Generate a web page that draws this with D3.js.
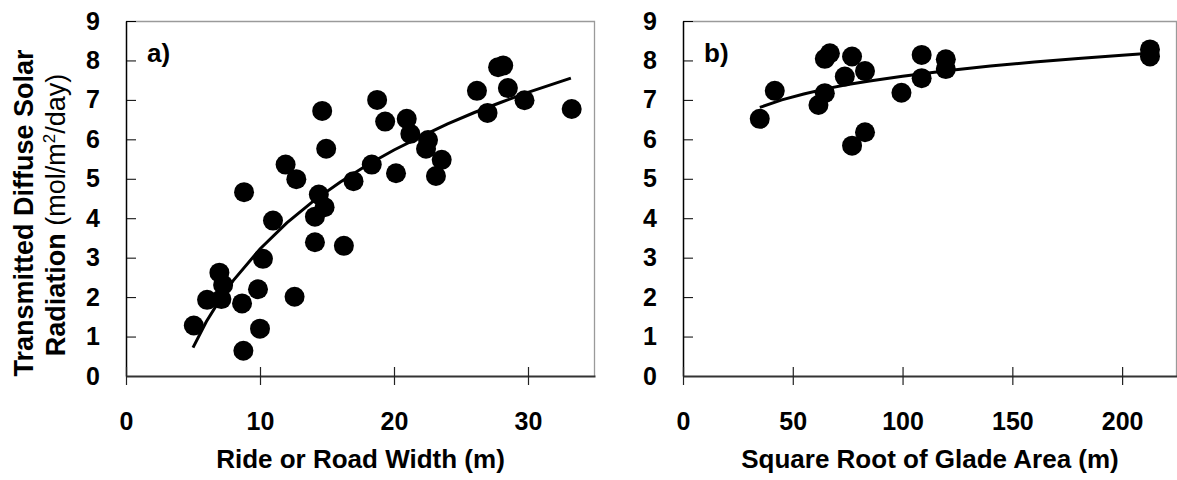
<!DOCTYPE html>
<html>
<head>
<meta charset="utf-8">
<script src="https://cdn.jsdelivr.net/npm/d3@7"></script>
<style>
  body { margin: 0; background: #fff; }
  text { font-family: "Liberation Sans", Arial, sans-serif; }
</style>
</head>
<body>
<script>
// panel a: ride / road width vs radiation
var rideWidth = [5.06, 6.05, 7.12, 6.97, 7.25, 8.66, 8.76, 8.81, 9.85, 10.0,
                 10.22, 10.97, 11.91, 12.58, 12.71, 14.1, 14.1, 14.39, 14.82, 14.64,
                 14.94, 16.26, 16.98, 18.34, 18.74, 19.34, 20.15, 20.95, 21.22, 22.54,
                 22.39, 23.56, 23.13, 26.19, 26.98, 27.77, 28.15, 28.5, 29.74, 33.26]
var rideRad = [1.28, 1.93, 1.95, 2.62, 2.31, 1.84, 0.64, 4.66, 2.2, 1.2,
               2.97, 3.94, 5.36, 2.01, 4.99, 3.39, 4.04, 4.6, 4.28, 6.72,
               5.76, 3.30, 4.94, 5.36, 7.0, 6.45, 5.14, 6.52, 6.14, 5.98,
               5.76, 5.48, 5.07, 7.23, 6.67, 7.83, 7.87, 7.3, 6.99, 6.77]

// trend line
var fitAx = [5, 6, 7, 8, 10, 12, 14, 16, 18, 20, 22, 24, 26, 28, 30, 33.2]
var fitAy = [0.72, 1.38, 1.93, 2.42, 3.22, 3.88, 4.44, 4.92, 5.35, 5.73, 6.07, 6.39, 6.68, 6.94, 7.19, 7.55]

// panel b: glade size vs radiation
var gladeRoot = [34.96, 41.8, 61.7, 64.6, 64.6, 66.9, 77.0, 73.7, 82.9, 82.9,
                 77.0, 99.5, 108.7, 108.7, 119.7, 119.7, 212.7, 212.7]
var gladeRad = [6.52, 7.23, 6.87, 7.17, 8.04, 8.18, 8.10, 7.59, 7.73, 6.18,
                5.84, 7.18, 8.14, 7.55, 8.03, 7.78, 8.28, 8.10]

var fitBx = [35, 45, 55, 65, 75, 85, 100, 120, 140, 160, 180, 200, 212.7]
var fitBy = [6.81, 7.0, 7.15, 7.28, 7.39, 7.48, 7.6, 7.74, 7.86, 7.96, 8.05, 8.13, 8.18]

var yTicks = [0, 1, 2, 3, 4, 5, 6, 7, 8, 9]
var xTicksA = [0, 10, 20, 30]
var xTicksB = [0, 50, 100, 150, 200]

var width = 1177
var height = 480
var top_y = 21
var bottom_y = 376

var svg = d3.select("body")
            .append("svg")
            .attr("width", width)
            .attr("height", height)

var y = d3.scaleLinear().domain([0, 9]).range([bottom_y, top_y])

function panel(opts) {
  var x = d3.scaleLinear().domain(opts.domain).range([opts.left, opts.right])
  var g = svg.append("g")

  // gray frame on top / right
  g.append("path")
    .attr("d", "M" + opts.left + "," + (top_y + 0.5) + "H" + (opts.right - 0.5) + "V" + bottom_y)
    .attr("fill", "none")
    .attr("stroke", "#9a9a9a")
    .attr("stroke-width", 1.3)

  // y axis, ticks inside
  var ya = g.append("g")
    .attr("transform", "translate(" + opts.left + ",0)")
    .call(d3.axisLeft(y).tickValues(yTicks).tickSizeInner(-10).tickSizeOuter(0).tickPadding(26))
  ya.select(".domain").attr("stroke", "#000").attr("stroke-width", 1.5)
  ya.selectAll(".tick line").attr("stroke", "#000").attr("stroke-width", 1)
  ya.selectAll("text")
    .attr("font-size", 25).attr("font-weight", "bold").attr("fill", "#000")
    .attr("font-family", "Liberation Sans, Arial, sans-serif")

  // x axis, ticks crossing the line
  var xa = g.append("g")
    .attr("transform", "translate(0," + bottom_y + ")")
    .call(d3.axisBottom(x).tickValues(opts.ticks).tickSizeInner(9).tickSizeOuter(0).tickPadding(27))
  xa.select(".domain").attr("stroke", "#333").attr("stroke-width", 2.2)
  xa.selectAll(".tick line").attr("y1", -9).attr("y2", 9).attr("stroke", "#222").attr("stroke-width", 1.2)
  xa.selectAll("text")
    .attr("font-size", 25).attr("font-weight", "bold").attr("fill", "#000")
    .attr("font-family", "Liberation Sans, Arial, sans-serif")

  // axis title
  g.append("text")
    .attr("x", (opts.left + opts.right) / 2)
    .attr("y", 468)
    .attr("text-anchor", "middle")
    .attr("font-size", 26)
    .attr("font-weight", "bold")
    .text(opts.title)

  // panel letter
  g.append("text")
    .attr("x", opts.left + 21)
    .attr("y", 62)
    .attr("font-size", 26)
    .attr("font-weight", "bold")
    .text(opts.letter)

  var pts = opts.xs.map(function(v, i) { return { x: v, y: opts.ys[i] } })
  g.selectAll("circle.dot")
    .data(pts)
    .enter()
    .append("circle")
    .classed("dot", true)
    .attr("cx", function(d) { return x(d.x) })
    .attr("cy", function(d) { return y(d.y) })
    .attr("r", 10)
    .attr("fill", "#000")

  var fit = opts.fx.map(function(v, i) { return [v, opts.fy[i]] })
  g.append("path")
    .datum(fit)
    .attr("fill", "none")
    .attr("stroke", "#000")
    .attr("stroke-width", 3)
    .attr("d", d3.line().x(function(d) { return x(d[0]) }).y(function(d) { return y(d[1]) }))
}

panel({ left: 126, right: 595, domain: [0, 35], ticks: xTicksA, xs: rideWidth, ys: rideRad,
        fx: fitAx, fy: fitAy, title: "Ride or Road Width (m)", letter: "a)" })
panel({ left: 683, right: 1177, domain: [0, 225], ticks: xTicksB, xs: gladeRoot, ys: gladeRad,
        fx: fitBx, fy: fitBy, title: "Square Root of Glade Area (m)", letter: "b)" })

// y axis title, two rotated lines
var t1 = svg.append("text")
  .attr("transform", "translate(33,213) rotate(-90)")
  .attr("text-anchor", "middle")
  .attr("font-size", 27)
  .attr("font-weight", "bold")
  .text("Transmitted Diffuse Solar")

var t2 = svg.append("text")
  .attr("transform", "translate(65,215) rotate(-90)")
  .attr("text-anchor", "middle")
  .attr("font-size", 27)
t2.append("tspan").attr("font-weight", "bold").text("Radiation ")
t2.append("tspan").text("(mol/m")
t2.append("tspan").attr("font-size", 17).attr("dy", -10).text("2")
t2.append("tspan").attr("dy", 10).text("/day)")
</script>
</body>
</html>
